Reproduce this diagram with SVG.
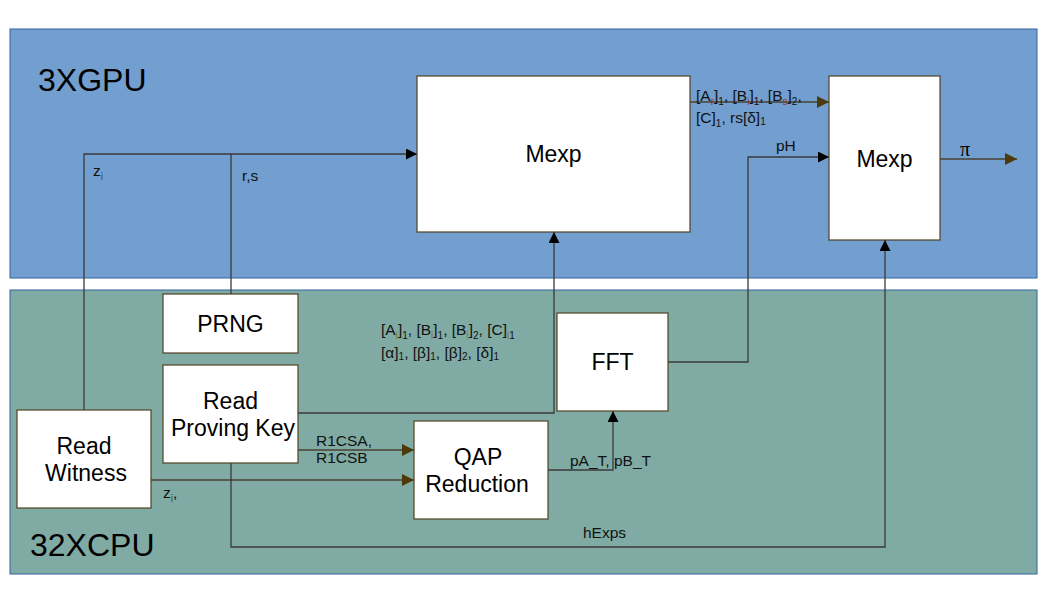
<svg xmlns="http://www.w3.org/2000/svg" width="1058" height="595" viewBox="0 0 1058 595">
<style>
.box{fill:#ffffff;stroke:#4f4220;stroke-width:1.2}
.big{font-family:"Liberation Sans",Arial,sans-serif;font-size:23px;fill:#000}
.lbl{font-family:"Liberation Sans",Arial,sans-serif;font-size:15.5px;fill:#111}
.sub{font-size:10px}
.c{fill:none;stroke:#3a3a3a;stroke-width:1.3}
.cb{fill:none;stroke:#4a4030;stroke-width:1.3}
</style>
<defs>
<marker id="ak" viewBox="0 0 10 10" refX="10" refY="5" markerWidth="11" markerHeight="11" markerUnits="userSpaceOnUse" orient="auto"><path d="M0,0 L10,5 L0,10 z" fill="#000"/></marker>
<marker id="ab" viewBox="0 0 10 10" refX="10" refY="5" markerWidth="12" markerHeight="12" markerUnits="userSpaceOnUse" orient="auto"><path d="M0,0 L10,5 L0,10 z" fill="#4d3a0a"/></marker>
</defs>
<rect width="1058" height="595" fill="#fff"/>
<g id="gpu">
<rect x="10" y="29" width="1027" height="249" fill="#729fcf" stroke="#3465a4" stroke-width="1"/>
<text x="38" y="91" font-family="Liberation Sans,Arial,sans-serif" font-size="32" fill="#000">3XGPU</text>
</g>
<g id="cpu">
<rect x="10" y="290" width="1027" height="284" fill="#80aba4" stroke="#3465a4" stroke-width="1"/>
<text x="30" y="556" font-family="Liberation Sans,Arial,sans-serif" font-size="32" fill="#000">32XCPU</text>
</g>
<g id="connectors">
<polyline class="c" points="84,410 84,154 417,154" marker-end="url(#ak)"/>
<polyline class="c" points="231,294 231,154"/>
<polyline class="c" points="298,413 554,413 554,232" marker-end="url(#ak)"/>
<polyline class="cb" points="298,450 414,450" marker-end="url(#ab)"/>
<polyline class="cb" points="151,480 414,480" marker-end="url(#ab)"/>
<polyline class="c" points="548,470 613,470 613,411" marker-end="url(#ak)"/>
<polyline class="c" points="668,362 748,362 748,157 829,157" marker-end="url(#ak)"/>
<polyline class="cb" points="690,102 829,102" marker-end="url(#ab)"/>
<polyline class="cb" points="940,159 1017,159" marker-end="url(#ab)"/>
<polyline class="c" points="231,463 231,547 885,547 885,240" marker-end="url(#ak)"/>
<text class="lbl" x="93" y="176">z<tspan class="sub" dy="4" fill="#2a4d8a">i</tspan></text>
<text class="lbl" x="242" y="181">r,s</text>
<text class="lbl" x="776" y="151">pH</text>
<text x="960" y="156" font-family="Liberation Serif,serif" font-size="20" fill="#000">π</text>
<text class="lbl" x="570" y="466">pA_T, pB_T</text>
<text class="lbl" x="583" y="538">hExps</text>
<text class="lbl" x="316" y="446">R1CSA,</text>
<text class="lbl" x="316" y="463">R1CSB</text>
<text class="lbl" x="163" y="498">z<tspan class="sub" dy="4" fill="#2a4d8a">i</tspan><tspan dy="-4">,</tspan></text>
<text class="lbl" x="696" y="101">[A<tspan class="sub" dy="4" fill="#8a3a2a">r</tspan><tspan dy="-4">]</tspan><tspan class="sub" dy="4">1</tspan><tspan dy="-4">, [B</tspan><tspan class="sub" dy="4" fill="#8a3a2a">i</tspan><tspan dy="-4">]</tspan><tspan class="sub" dy="4">1</tspan><tspan dy="-4">, [B</tspan><tspan class="sub" dy="4" fill="#8a3a2a">s</tspan><tspan dy="-4">]</tspan><tspan class="sub" dy="4">2</tspan><tspan dy="-4">,</tspan></text>
<text class="lbl" x="696" y="123">[C]<tspan class="sub" dy="4">1</tspan><tspan dy="-4">, rs[δ]</tspan><tspan class="sub" dy="2">1</tspan></text>
<text class="lbl" x="381" y="335">[A<tspan class="sub" dy="4" fill="#8a6a2a">i</tspan><tspan dy="-4">]</tspan><tspan class="sub" dy="4">1</tspan><tspan dy="-4">, [B</tspan><tspan class="sub" dy="4" fill="#8a6a2a">i</tspan><tspan dy="-4">]</tspan><tspan class="sub" dy="4">1</tspan><tspan dy="-4">, [B</tspan><tspan class="sub" dy="4" fill="#8a6a2a">i</tspan><tspan dy="-4">]</tspan><tspan class="sub" dy="4">2</tspan><tspan dy="-4">, [C]</tspan><tspan class="sub" dy="4" fill="#8a6a2a">i</tspan><tspan class="sub">1</tspan></text>
<text class="lbl" x="381" y="358">[α]<tspan class="sub" dy="2">1</tspan><tspan dy="-2">, [β]</tspan><tspan class="sub" dy="2">1</tspan><tspan dy="-2">, [β]</tspan><tspan class="sub" dy="2">2</tspan><tspan dy="-2">,  [δ]</tspan><tspan class="sub" dy="2">1</tspan></text>
</g>
<g id="mexp1">
<rect class="box" x="417" y="76" width="273" height="156"/>
<text class="big" x="553.5" y="162" text-anchor="middle">Mexp</text>
</g>
<g id="mexp2">
<rect class="box" x="829" y="76" width="111" height="164"/>
<text class="big" x="884.5" y="167" text-anchor="middle">Mexp</text>
</g>
<g id="prng">
<rect class="box" x="163" y="294" width="135" height="59"/>
<text class="big" x="230.5" y="332" text-anchor="middle">PRNG</text>
</g>
<g id="readkey">
<rect class="box" x="163" y="365" width="135" height="98"/>
<text class="big" x="230.5" y="409" text-anchor="middle">Read</text>
<text class="big" x="233" y="436" text-anchor="middle">Proving Key</text>
</g>
<g id="readwitness">
<rect class="box" x="17" y="410" width="134" height="98"/>
<text class="big" x="84" y="454" text-anchor="middle">Read</text>
<text class="big" x="86" y="481" text-anchor="middle">Witness</text>
</g>
<g id="qap">
<rect class="box" x="414" y="421" width="134" height="98"/>
<text class="big" x="478" y="465" text-anchor="middle">QAP</text>
<text class="big" x="477" y="492" text-anchor="middle">Reduction</text>
</g>
<g id="fft">
<rect class="box" x="557" y="313" width="111" height="98"/>
<text class="big" x="612.5" y="370" text-anchor="middle">FFT</text>
</g>
</svg>
